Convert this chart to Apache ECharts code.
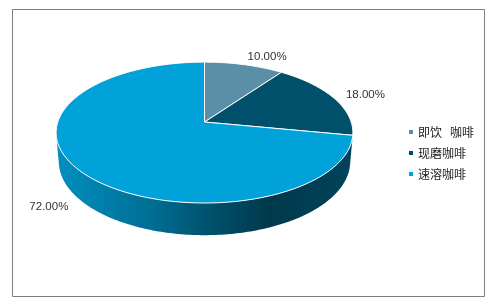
<!DOCTYPE html>
<html><head><meta charset="utf-8">
<script src="https://cdn.jsdelivr.net/npm/echarts@6/dist/echarts.min.js"></script>
<style>html,body{margin:0;padding:0;background:#fff}#c{width:497px;height:306px}</style>
</head><body><div id="c"></div>
<script>
const categories = ['即饮   咖啡', '现磨咖啡', '速溶咖啡'];
const shares = [10, 18, 72];
const colors = ['#5b8fa8', '#00506b', '#00a2d9'];

// 3D perspective parameters (style)
const TILT = 28 * Math.PI / 180, DIST = 5.91, DEPTH = 0.227, LABEL_R = 1.1;
const cosA = Math.cos(TILT), sinA = Math.sin(TILT);
const total = shares.reduce((a, b) => a + b, 0);
const starts = []; let acc = 0; shares.forEach(v => { starts.push(acc); acc += v; });

function darken(color, f) {
  const c = echarts.color.parse(color);
  return 'rgb(' + Math.round(c[0] * f) + ',' + Math.round(c[1] * f) + ',' + Math.round(c[2] * f) + ')';
}
function project(api, r, th, Y) {
  const X = r * Math.sin(th), Z = r * Math.cos(th);
  const zc = DIST + Z * cosA - Y * sinA;
  const yc = Z * sinA + Y * cosA;
  return api.coord([DIST * X / zc, DIST * yc / zc]);
}
function arc(api, a, b, Y) {
  const pts = [];
  const n = Math.max(2, Math.ceil(Math.abs(b - a) / (Math.PI / 180)));
  for (let i = 0; i <= n; i++) pts.push(project(api, 1, a + (b - a) * i / n, Y));
  return pts;
}
const visLimit = Math.acos(-1 / (DIST * cosA));

function renderSlice(params, api) {
  const share = api.value(0), start = api.value(1);
  const color = api.visual('color');
  const a = start / total * 2 * Math.PI, b = (start + share) / total * 2 * Math.PI;
  const children = [];
  // side wall
  const s = Math.max(a, visLimit), e = Math.min(b, 2 * Math.PI - visLimit);
  if (e > s) {
    const top = arc(api, s, e, 0), bot = arc(api, s, e, -DEPTH).reverse();
    const xl = project(api, 1, 1.5 * Math.PI, 0)[0], xr = project(api, 1, 0.5 * Math.PI, 0)[0];
    children.push({
      type: 'polygon', z2: 1,
      shape: { points: top.concat(bot) },
      style: {
        fill: new echarts.graphic.LinearGradient(xl, 0, xr, 0, [
          { offset: 0, color: darken(color, 0.88) },
          { offset: 0.32, color: darken(color, 0.68) },
          { offset: 0.48, color: darken(color, 0.53) },
          { offset: 0.72, color: darken(color, 0.35) },
          { offset: 1, color: darken(color, 0.42) }
        ], true),
        stroke: null
      }
    });
  }
  // top face
  children.push({
    type: 'polygon', z2: 10,
    shape: { points: [project(api, 0, 0, 0)].concat(arc(api, a, b, 0)) },
    style: { fill: color, stroke: '#ffffff', lineWidth: 1 }
  });
  // label
  const mid = (a + b) / 2;
  let p, y;
  if (Math.cos(mid) >= 0) { p = project(api, LABEL_R, mid, 0); y = p[1] - Math.cos(mid) * 4 + 1; }
  else { p = project(api, LABEL_R, mid, -DEPTH); y = p[1]; }
  children.push({
    type: 'text', z2: 20, x: p[0], y: y,
    style: {
      text: share.toFixed(2) + '%', fill: '#333333',
      fontSize: 11.5, fontFamily: '"Liberation Sans", Arial, sans-serif',
      align: Math.sin(mid) >= 0 ? 'left' : 'right', verticalAlign: 'middle'
    }
  });
  return { type: 'group', children };
}

const chart = echarts.init(document.getElementById('c'), null, { renderer: 'canvas' });
chart.setOption({
  animation: false,
  backgroundColor: '#ffffff',
  color: colors,
  grid: { left: 43.15, top: 34, width: 322.7, height: 205.4 },
  xAxis: { type: 'value', min: -1.1, max: 1.1, show: false },
  yAxis: { type: 'value', min: -0.8, max: 0.6, show: false },
  legend: {
    orient: 'vertical', left: 404, top: 121, itemWidth: 4, itemHeight: 4, itemGap: 9,
    icon: 'rect', data: categories,
    textStyle: { fontFamily: '"Noto Sans CJK SC"', fontSize: 12, color: '#222', lineHeight: 12 }
  },
  graphic: [{
    type: 'rect', silent: true,
    shape: { x: 12.5, y: 9.5, width: 472, height: 287 },
    style: { fill: 'none', stroke: '#7f7f7f', lineWidth: 1 }
  }],
  series: categories.map((name, i) => ({
    type: 'custom', name: name, coordinateSystem: 'cartesian2d', clip: false,
    itemStyle: { color: colors[i] },
    renderItem: renderSlice,
    data: [[shares[i], starts[i]]]
  }))
});
</script></body></html>
